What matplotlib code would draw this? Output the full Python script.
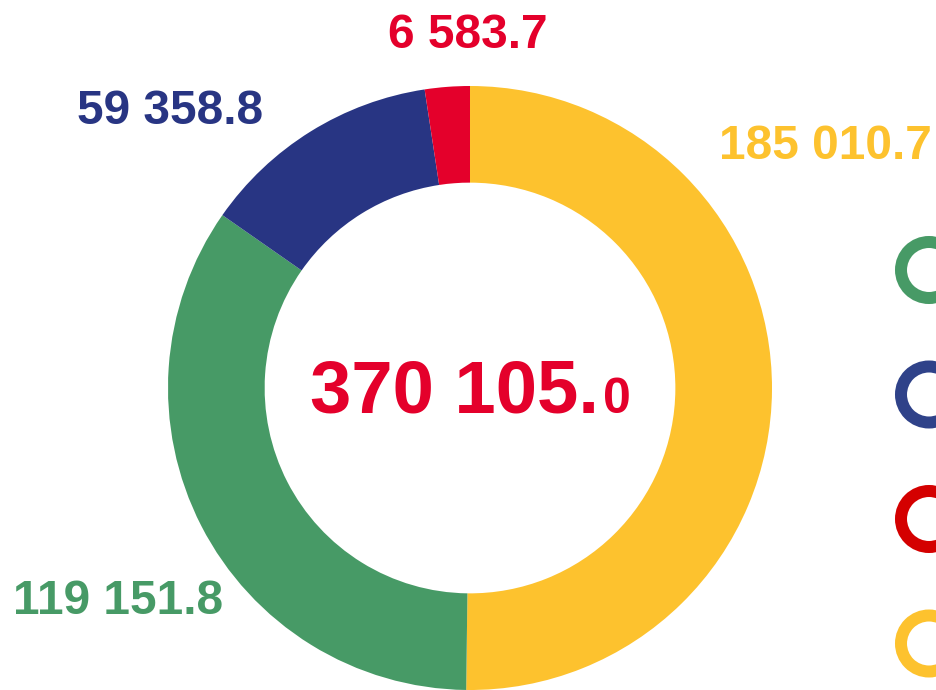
import matplotlib.pyplot as plt
from matplotlib.patches import Circle

# values shown on the chart, clockwise from 12 o'clock
values = [185010.7, 119151.8, 59358.8, 6583.7]
labels = ['185 010.7', '119 151.8', '59 358.8', '6 583.7']
# slice shares as drawn in the picture (%)
shares = [50.2, 34.5, 12.9, 2.4]
colors = ['#FDC22E', '#479A66', '#283583', '#E4002B']
total_main = '370 105.'
total_dec = '0'

# legend ring markers (top to bottom)
legend_colors = ['#479A66', '#2F4289', '#D40000', '#FDC22E']

plt.rcParams['font.family'] = ['Liberation Sans', 'DejaVu Sans']

W, H = 937, 690
fig = plt.figure(figsize=(W / 100, H / 100), dpi=100)
ax = fig.add_axes([0, 0, 1, 1])

cx, cy, r = 470, H - 388, 302
ax.pie(shares, colors=colors, startangle=90, counterclock=False,
       center=(cx, cy), radius=r, frame=True,
       wedgeprops=dict(width=r * 0.32, linewidth=0))
ax.set_xlim(0, W)
ax.set_ylim(0, H)
ax.set_aspect('equal')
ax.axis('off')

# slice labels (baseline positions)
label_pos = [(825, H - 159), (118, H - 614), (170, H - 124), (468, H - 48)]
for (x, y), txt, c in zip(label_pos, labels, colors):
    ax.text(x, y, txt, color=c, fontsize=34.5, fontweight='bold',
            ha='center', va='baseline')

# center total, small decimal
t = ax.text(310, H - 413, total_main, color='#E4002B', fontsize=53.5,
            fontweight='bold', ha='left', va='baseline')
fig.canvas.draw()
bb = t.get_window_extent()
ax.text(bb.x1 + 4, H - 413, total_dec, transform=None,
        color='#E4002B', fontsize=36, fontweight='bold',
        ha='left', va='baseline')

# legend rings, cut by the right edge
for i, c in enumerate(legend_colors):
    y = H - (270 + i * 124.5)
    ax.add_patch(Circle((929, y), 28, fill=False, edgecolor=c,
                        linewidth=12 * 0.72, clip_on=False))

fig.savefig('out.png', dpi=100)
